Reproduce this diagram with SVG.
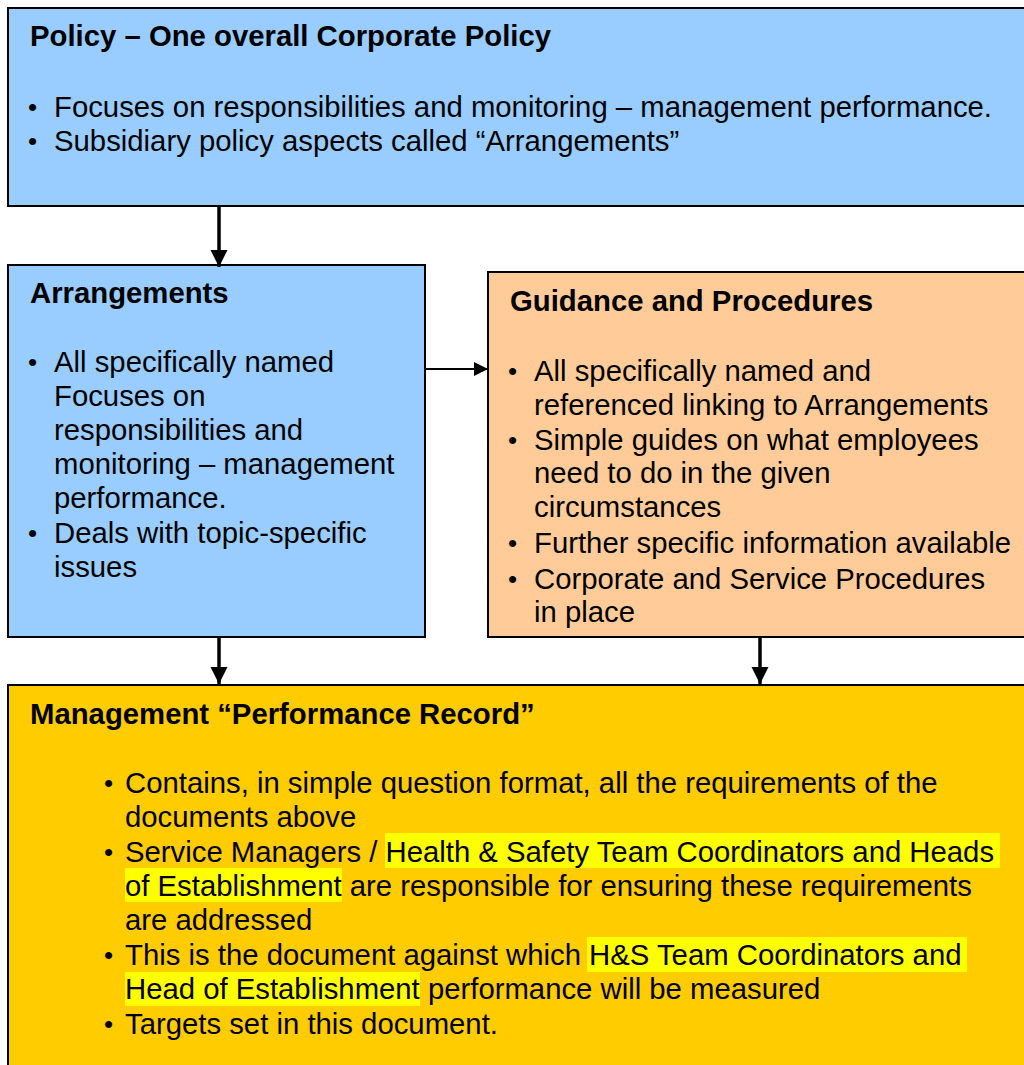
<svg xmlns="http://www.w3.org/2000/svg" width="1024" height="1065" viewBox="0 0 1024 1065">
<defs>
<style>
.box{stroke:#000;stroke-width:2}
.t{font-family:"Liberation Sans",Arial,sans-serif;font-size:29.3px;fill:#000}
.b{font-weight:bold}
.d{font-size:26px}
.conn{stroke:#000;fill:none}
</style>
<marker id="ah" viewBox="0 0 10 10" refX="10" refY="5" markerWidth="5" markerHeight="5" markerUnits="strokeWidth" orient="auto">
<path d="M0,0 L10,5 L0,10 z" fill="#000"/>
</marker>
<marker id="ah2" viewBox="0 0 10 10" refX="10" refY="5" markerWidth="8" markerHeight="7" markerUnits="strokeWidth" orient="auto">
<path d="M0,0 L10,5 L0,10 z" fill="#000"/>
</marker>
</defs>
<rect width="1024" height="1065" fill="#fff"/>

<g id="policy">
<rect class="box" x="8" y="8" width="1030" height="198" fill="#99CCFF"/>
<text class="t b" x="30" y="46">Policy – One overall Corporate Policy</text>
<text class="t d" x="28" y="116">•</text>
<text class="t" x="54" y="117">Focuses on responsibilities and monitoring – management performance.</text>
<text class="t d" x="28" y="150">•</text>
<text class="t" x="54" y="151">Subsidiary policy aspects called “Arrangements”</text>
</g>

<g id="arrangements">
<rect class="box" x="8" y="265" width="417" height="372" fill="#99CCFF"/>
<text class="t b" x="30" y="303">Arrangements</text>
<text class="t d" x="28" y="371">•</text>
<text class="t" x="54" y="372">All specifically named</text>
<text class="t" x="54" y="406">Focuses on</text>
<text class="t" x="54" y="440">responsibilities and</text>
<text class="t" x="54" y="474">monitoring – management</text>
<text class="t" x="54" y="508">performance.</text>
<text class="t d" x="28" y="542">•</text>
<text class="t" x="54" y="543">Deals with topic-specific</text>
<text class="t" x="54" y="577">issues</text>
</g>

<g id="guidance">
<rect class="box" x="488" y="272" width="550" height="365" fill="#FFCC99"/>
<text class="t b" x="510" y="311">Guidance and Procedures</text>
<text class="t d" x="508" y="380">•</text>
<text class="t" x="534" y="381">All specifically named and</text>
<text class="t" x="534" y="415">referenced linking to Arrangements</text>
<text class="t d" x="508" y="449">•</text>
<text class="t" x="534" y="450">Simple guides on what employees</text>
<text class="t" x="534" y="483">need to do in the given</text>
<text class="t" x="534" y="517">circumstances</text>
<text class="t d" x="508" y="552">•</text>
<text class="t" x="534" y="553">Further specific information available</text>
<text class="t d" x="508" y="588">•</text>
<text class="t" x="534" y="589">Corporate and Service Procedures</text>
<text class="t" x="534" y="622">in place</text>
</g>

<g id="performance">
<rect class="box" x="8" y="685" width="1030" height="390" fill="#FFCC00"/>
<rect x="385" y="833" width="615" height="35" fill="#FFFF00"/>
<rect x="125" y="868" width="217" height="34" fill="#FFFF00"/>
<rect x="587" y="937" width="380" height="35" fill="#FFFF00"/>
<rect x="125" y="972" width="295" height="34" fill="#FFFF00"/>
<text class="t b" x="30" y="724">Management “Performance Record”</text>
<text class="t d" x="104" y="792">•</text>
<text class="t" x="125" y="793">Contains, in simple question format, all the requirements of the</text>
<text class="t" x="125" y="827">documents above</text>
<text class="t d" x="104" y="861">•</text>
<text class="t" x="125" y="862">Service Managers / Health &amp; Safety Team Coordinators and Heads</text>
<text class="t" x="125" y="896">of Establishment are responsible for ensuring these requirements</text>
<text class="t" x="125" y="930">are addressed</text>
<text class="t d" x="104" y="964">•</text>
<text class="t" x="125" y="965">This is the document against which H&amp;S Team Coordinators and</text>
<text class="t" x="125" y="999">Head of Establishment performance will be measured</text>
<text class="t d" x="104" y="1033">•</text>
<text class="t" x="125" y="1034">Targets set in this document.</text>
</g>

<g id="connectors">
<line class="conn" x1="219" y1="207" x2="219" y2="267" stroke-width="3.5" marker-end="url(#ah)"/>
<line class="conn" x1="426" y1="369" x2="488" y2="369" stroke-width="2" marker-end="url(#ah2)"/>
<line class="conn" x1="219" y1="637" x2="219" y2="684" stroke-width="3.5" marker-end="url(#ah)"/>
<line class="conn" x1="760" y1="636" x2="760" y2="684" stroke-width="3.5" marker-end="url(#ah)"/>
</g>
</svg>
